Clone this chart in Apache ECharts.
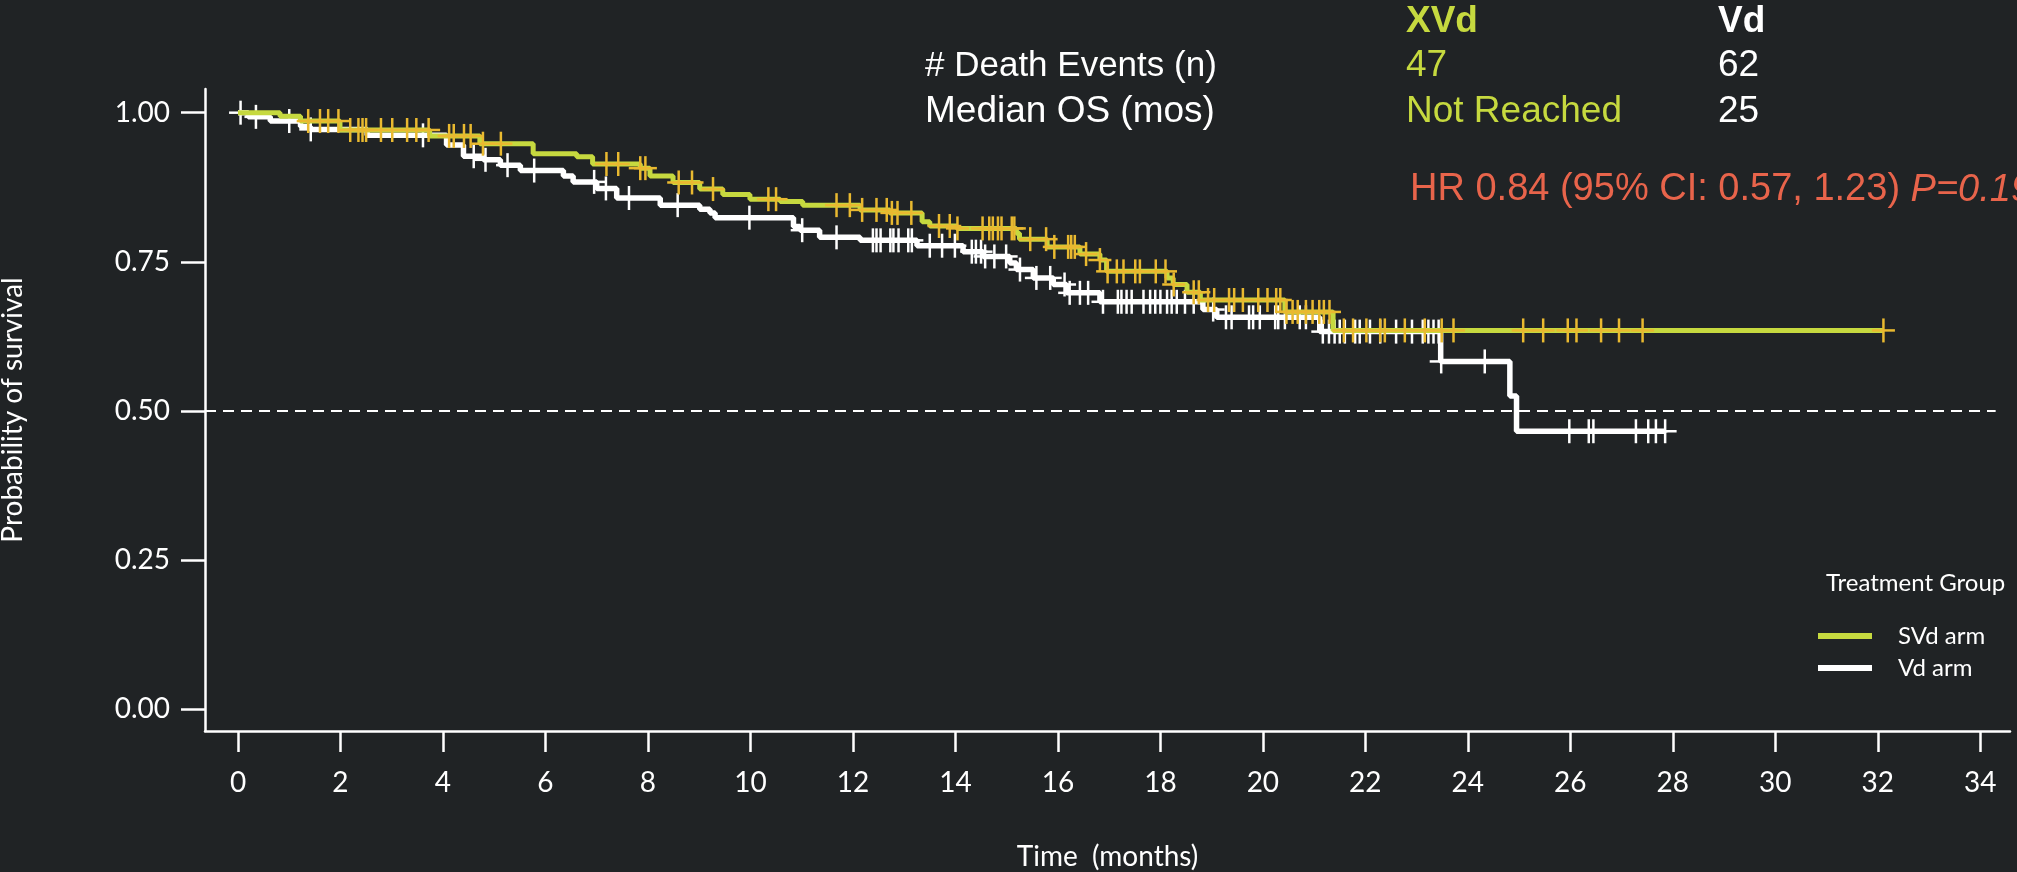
<!DOCTYPE html>
<html>
<head>
<meta charset="utf-8">
<script src="https://cdn.jsdelivr.net/npm/echarts@6/dist/echarts.min.js"></script>
<style>
  html, body { margin: 0; padding: 0; background: #202325; }
  #chart { width: 2017px; height: 872px; }
</style>
</head>
<body>
<div id="chart"></div>
<script>
// Axis ticks
const timeTicks = [0, 2, 4, 6, 8, 10, 12, 14, 16, 18, 20, 22, 24, 26, 28, 30, 32, 34];
const survivalTicks = [0, 0.25, 0.5, 0.75, 1];

// SVd arm: Kaplan-Meier steps (time in months, survival from that time on)
const svdTimes = [0, 0.82, 1.22, 1.99, 3.74, 4.72, 5.76, 6.61, 6.92, 7.85, 8.04, 8.49, 9.01, 9.46, 9.99,
  10.58, 11.02, 12.14, 12.72, 13.35, 13.50, 14.03, 15.19, 15.25, 15.79, 16.43, 16.82, 16.95, 18.13, 18.25,
  18.52, 18.78, 20.43, 21.37, 32.11];
const svdSurv = [1.0, 0.994, 0.986, 0.971, 0.961, 0.948, 0.931, 0.926, 0.914, 0.907, 0.894, 0.883, 0.872, 0.863, 0.855,
  0.851, 0.845, 0.837, 0.832, 0.817, 0.810, 0.806, 0.798, 0.788, 0.775, 0.763, 0.753, 0.734, 0.723, 0.712,
  0.699, 0.686, 0.666, 0.635, 0.635];
// SVd arm: censoring times
const svdCensor = [1.37, 1.60, 1.76, 1.96, 2.19, 2.35, 2.43, 2.50, 2.79, 3.01, 3.30, 3.48, 3.72, 4.12, 4.21, 4.41, 4.54,
  4.78, 5.13, 7.19, 7.42, 7.85, 7.95, 8.60, 8.86, 9.27, 10.35, 10.50, 11.68, 11.94, 12.18, 12.46, 12.66, 12.76,
  12.87, 13.14, 13.68, 13.89, 14.04, 14.53, 14.66, 14.73, 14.83, 14.90, 15.10, 15.15, 15.46, 15.77, 15.93,
  16.20, 16.26, 16.33, 16.55, 16.82, 16.97, 17.15, 17.28, 17.51, 17.60, 17.91, 18.10, 18.26, 18.65, 18.75,
  18.93, 19.05, 19.34, 19.44, 19.61, 19.91, 20.09, 20.26, 20.34, 20.46, 20.58, 20.68, 20.84, 20.97, 21.10,
  21.19, 21.30, 21.58, 21.76, 22.02, 22.29, 22.38, 22.77, 23.16, 23.49, 23.72, 25.08, 25.47, 25.95, 26.12,
  26.60, 26.95, 27.41, 32.11];

// Vd arm: Kaplan-Meier steps
const vdTimes = [0, 0.20, 0.63, 1.22, 1.41, 2.52, 4.07, 4.40, 4.79, 5.12, 5.51, 6.35, 6.54, 7.00, 7.39, 8.24,
  9.01, 9.21, 9.31, 10.84, 10.97, 11.35, 12.14, 13.25, 14.15, 14.54, 15.06, 15.19, 15.52, 15.91, 16.17,
  16.82, 18.83, 19.10, 21.11, 23.47, 24.82, 24.95, 27.85];
const vdSurv = [1.0, 0.993, 0.986, 0.977, 0.972, 0.962, 0.946, 0.927, 0.921, 0.912, 0.903, 0.894, 0.884, 0.873,
  0.857, 0.845, 0.838, 0.832, 0.824, 0.809, 0.803, 0.791, 0.786, 0.777, 0.767, 0.759, 0.748, 0.737, 0.723,
  0.712, 0.698, 0.683, 0.670, 0.657, 0.633, 0.583, 0.525, 0.466, 0.466];
// Vd arm: censoring times
const vdCensor = [0.05, 0.35, 1.00, 1.42, 3.61, 4.60, 4.83, 5.26, 5.78, 6.95, 7.18, 7.63, 8.58, 9.98, 11.01, 11.68,
  12.39, 12.46, 12.54, 12.73, 12.79, 12.89, 13.08, 13.15, 13.50, 13.74, 13.99, 14.32, 14.40, 14.50, 14.58,
  14.76, 14.99, 15.26, 15.58, 15.85, 16.13, 16.23, 16.43, 16.59, 16.88, 17.17, 17.24, 17.34, 17.44, 17.67,
  17.80, 17.90, 18.00, 18.13, 18.22, 18.32, 18.48, 18.65, 19.03, 19.28, 19.39, 19.73, 19.81, 19.94, 20.24,
  20.30, 20.43, 20.72, 20.84, 21.17, 21.29, 21.40, 21.50, 21.60, 21.80, 21.89, 22.09, 22.29, 22.60, 22.91,
  23.12, 23.23, 23.33, 23.43, 23.48, 24.33, 25.98, 26.36, 26.45, 27.28, 27.52, 27.67, 27.85];

// Summary table
const armHeaders = ['XVd', 'Vd'];
const rowLabels = ['# Death Events (n)', 'Median OS (mos)'];
const deathEvents = ['47', '62'];
const medianOS = ['Not Reached', '25'];
const hrText = 'HR 0.84 (95% CI: 0.57, 1.23) ';
const pText = 'P=0.19';

const GREEN = '#C6D93F';
const GOLD = '#E9B930';
const WHITE = '#FFFFFF';
const CORAL = '#E8644B';
const AXIS_FONT = 'Lato';
const HEAD_FONT = '"Liberation Sans", Arial, sans-serif';

function steps(times, surv) {
  return times.map((t, i) => [t, surv[i]]);
}
function levelAt(times, surv, t) {
  let s = surv[0];
  for (let i = 0; i < times.length; i++) {
    if (times[i] <= t + 1e-9) s = surv[i]; else break;
  }
  return s;
}
function censorPoints(cens, times, surv) {
  return cens.map(t => [t, levelAt(times, surv, t)]);
}
// "+" censor mark
function plusMark(color) {
  return function (params, api) {
    const p = api.coord([api.value(0), api.value(1)]);
    const st = { stroke: color, lineWidth: 2.5 };
    return {
      type: 'group',
      children: [
        { type: 'line', shape: { x1: p[0], y1: p[1] - 12, x2: p[0], y2: p[1] + 12 }, style: st },
        { type: 'line', shape: { x1: p[0] - 11.5, y1: p[1], x2: p[0] + 11.5, y2: p[1] }, style: st }
      ]
    };
  };
}

const X_MIN = -0.644, X_MAX = 34.58;
const Y_MIN = -0.0365, Y_MAX = 1.0397;

const headText = (text, x, y, color, bold, size) => ({
  type: 'text', x: x, y: y, silent: true,
  style: {
    text: text, fill: color, fontSize: size || 37, fontFamily: HEAD_FONT,
    fontWeight: bold ? 'bold' : 'normal', align: 'left', verticalAlign: 'middle'
  }
});

const chart = echarts.init(document.getElementById('chart'));
chart.setOption({
  backgroundColor: '#202325',
  animation: false,
  grid: { left: 205, right: 7, top: 89, bottom: 141, containLabel: false, outerBoundsMode: 'none' },
  xAxis: {
    type: 'value', min: X_MIN, max: X_MAX,
    name: 'Time  (months)', nameLocation: 'middle', nameGap: 112,
    nameTextStyle: { color: WHITE, fontFamily: AXIS_FONT, fontSize: 28 },
    axisLine: { show: true, onZero: false, lineStyle: { color: WHITE, width: 2.5 } },
    axisTick: { show: true, length: 21, customValues: timeTicks, lineStyle: { color: WHITE, width: 2.5 } },
    axisLabel: { customValues: timeTicks, color: WHITE, fontFamily: AXIS_FONT, fontSize: 28, margin: 38 },
    splitLine: { show: false }
  },
  yAxis: {
    type: 'value', min: Y_MIN, max: Y_MAX,
    name: 'Probability of survival', nameLocation: 'middle', nameGap: 178, nameRotate: 90,
    nameTextStyle: { color: WHITE, fontFamily: AXIS_FONT, fontSize: 28 },
    axisLine: { show: true, onZero: false, lineStyle: { color: WHITE, width: 2.5 } },
    axisTick: { show: true, length: 24, customValues: survivalTicks, lineStyle: { color: WHITE, width: 2.5 } },
    axisLabel: {
      customValues: survivalTicks, color: WHITE, fontFamily: AXIS_FONT, fontSize: 28, margin: 35,
      formatter: v => Number(v).toFixed(2)
    },
    splitLine: { show: false }
  },
  legend: {
    data: ['SVd arm', 'Vd arm'], orient: 'vertical', left: 1818, top: 623,
    icon: 'rect', itemWidth: 54, itemHeight: 6, itemGap: 6, padding: 0,
    textStyle: { color: WHITE, fontFamily: AXIS_FONT, fontSize: 24, lineHeight: 26, padding: [0, 0, 0, 21] }
  },
  graphic: [
    headText(armHeaders[0], 1406, 22, GREEN, true),
    headText(armHeaders[1], 1718, 22, WHITE, true),
    headText(rowLabels[0], 925, 66, WHITE, false, 35),
    headText(deathEvents[0], 1406, 66, GREEN, false),
    headText(deathEvents[1], 1718, 66, WHITE, false),
    headText(rowLabels[1], 925, 112, WHITE, false),
    headText(medianOS[0], 1406, 112, GREEN, false),
    headText(medianOS[1], 1718, 112, WHITE, false),
    {
      type: 'text', x: 1410, y: 190, silent: true,
      style: {
        text: '{a|' + hrText + '}{b|' + pText + '}',
        verticalAlign: 'middle', align: 'left',
        rich: {
          a: { fill: CORAL, fontSize: 38, fontFamily: HEAD_FONT },
          b: { fill: CORAL, fontSize: 38, fontFamily: HEAD_FONT, fontStyle: 'italic' }
        }
      }
    },
    {
      type: 'text', x: 1826, y: 583, silent: true,
      style: { text: 'Treatment Group', fill: WHITE, fontSize: 24, fontFamily: AXIS_FONT, align: 'left', verticalAlign: 'middle' }
    }
  ],
  series: [
    {
      name: 'Vd arm', type: 'line', step: 'end', showSymbol: false, color: WHITE, z: 3,
      lineStyle: { color: WHITE, width: 5.5 },
      data: steps(vdTimes, vdSurv),
      markLine: {
        silent: true, symbol: 'none', z: 1,
        lineStyle: { color: WHITE, width: 2, type: [11, 7] },
        label: { show: false },
        data: [[{ coord: [X_MIN, 0.5] }, { coord: [34.3, 0.5] }]]
      }
    },
    {
      name: 'Vd censored', type: 'custom', z: 4,
      renderItem: plusMark(WHITE),
      data: censorPoints(vdCensor, vdTimes, vdSurv)
    },
    {
      name: 'SVd arm', type: 'line', step: 'end', showSymbol: false, color: GREEN, z: 5,
      lineStyle: { color: GREEN, width: 5 },
      data: steps(svdTimes, svdSurv)
    },
    {
      name: 'SVd censored', type: 'custom', z: 6,
      renderItem: plusMark(GOLD),
      data: censorPoints(svdCensor, svdTimes, svdSurv)
    }
  ]
});
</script>
</body>
</html>
